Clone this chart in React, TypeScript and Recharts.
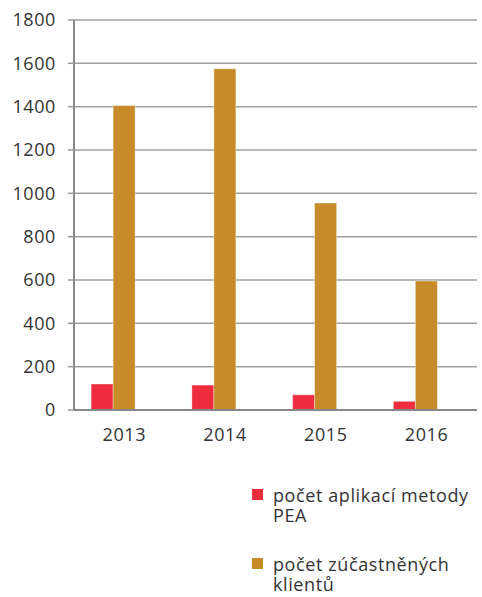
import React from "react";
import { BarChart, Bar, XAxis, YAxis, CartesianGrid } from "recharts";

const years = ["2013", "2014", "2015", "2016"];
const peaApplications = [120, 115, 70, 40];
const participatingClients = [1405, 1575, 955, 595];
const emptySeries: (number | null)[] = [null, null, null, null];
const yTicks = [0, 200, 400, 600, 800, 1000, 1200, 1400, 1600, 1800];
const edgeTicks = [0, 1, 2, 3, 4];

const seriesNames = ["počet aplikací metody PEA", "počet zúčastněných klientů"];
const seriesColors = ["#EE2E3F", "#C78B2A"];

const data = years.map((y, i) => ({
  year: y,
  pea: peaApplications[i],
  clients: participatingClients[i],
  empty: emptySeries[i],
}));

const FONT = "'Open Sans', sans-serif";

export default function App() {
  return (
    <div style={{ position: "absolute", left: 0, top: 0, width: 482, height: 597, fontFamily: FONT }}>
      <BarChart
        width={482}
        height={597}
        data={data}
        margin={{ top: 20, right: 5, left: 0, bottom: 157 }}
        barCategoryGap="17%"
        barGap={0}
      >
        <CartesianGrid vertical={false} stroke="#a0a0a0" strokeWidth={1.5} />
        <XAxis
          xAxisId="edges"
          type="number"
          domain={[0, 4]}
          ticks={edgeTicks}
          tick={false}
          axisLine={false}
          tickLine={{ stroke: "#999", strokeWidth: 1.5 }}
          tickSize={6}
          height={0}
          allowDataOverflow
        />
        <XAxis
          dataKey="year"
          axisLine={{ stroke: "#888", strokeWidth: 2 }}
          tickLine={false}
          tickSize={0}
          tickMargin={18}
          height={30}
          tick={{ fill: "#333", fontSize: 18, fontFamily: FONT, letterSpacing: 0.6 }}
        />
        <YAxis
          width={74}
          domain={[0, 1800]}
          ticks={yTicks}
          interval={0}
          axisLine={{ stroke: "#888", strokeWidth: 2 }}
          tickLine={{ stroke: "#999", strokeWidth: 1.5 }}
          tickSize={6}
          tickMargin={12}
          tick={{ fill: "#333", fontSize: 18, fontFamily: FONT, letterSpacing: 0.6 }}
        />
        <Bar dataKey="pea" fill={seriesColors[0]} stroke="rgba(255,255,255,0.35)" strokeWidth={1} isAnimationActive={false} />
        <Bar dataKey="clients" fill={seriesColors[1]} stroke="rgba(255,255,255,0.35)" strokeWidth={1} isAnimationActive={false} />
        <Bar dataKey="empty" fill="#999" isAnimationActive={false} />
      </BarChart>
      <div style={{ position: "absolute", left: 252, top: 485, width: 230, color: "#333", fontSize: 18, lineHeight: "20px", letterSpacing: 0.6, fontFamily: FONT }}>
        {seriesNames.map((name, i) => (
          <div key={name} style={{ position: "relative", paddingLeft: 21, marginBottom: i === 0 ? 29 : 0, width: 207 }}>
            <span style={{ position: "absolute", left: 0, top: 4, width: 11, height: 11, background: seriesColors[i] }} />
            {name}
          </div>
        ))}
      </div>
    </div>
  );
}
